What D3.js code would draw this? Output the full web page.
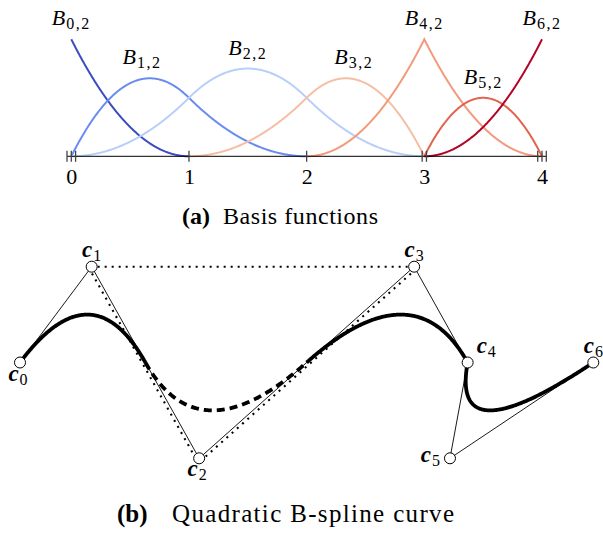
<!DOCTYPE html>
<html>
<head>
<meta charset="utf-8">
<script src="https://cdn.jsdelivr.net/npm/d3@7"></script>
<style>
  body { margin: 0; background: #fff; }
  text { font-family: "Liberation Serif", "DejaVu Serif", serif; fill: #000; }
</style>
</head>
<body>
<script>
// knot vector and degree of the quadratic B-spline
const knots = [0, 0, 0, 1, 2, 3, 3, 4, 4, 4];
const degree = 2;
const tickLabels = [0, 1, 2, 3, 4];
const basisColors = ["#3b4cc0", "#6a8cf0", "#b8cff9", "#f5bfa6", "#f39a7c", "#e0654f", "#b40426"];
const labelAt = [0, 0.6, 1.5, 2.4, 3, 3.5, 4];

// control points (b)
const ctrlX = [0, 1.5, 3.75, 8.25, 9.37, 9, 12];
const ctrlY = [0, 2, -2, 2, 0, -2, 0];
const ctrlLabelPos = ["below", "above", "below", "above", "right", "left", "above"];
const dashedSpan = [1, 2];
const dottedPoly = [1, 2, 3];

const width = 603, height = 536;
const svg = d3.select("body").append("svg")
  .attr("width", width).attr("height", height);

const tMax = d3.max(knots);

// Cox-de Boor
function N(i, p, t) {
  if (p === 0) {
    if (knots[i] <= t && t < knots[i + 1]) return 1;
    if (t === tMax && knots[i + 1] === tMax && knots[i] < knots[i + 1]) return 1;
    return 0;
  }
  let a = 0, b = 0;
  const d1 = knots[i + p] - knots[i];
  const d2 = knots[i + p + 1] - knots[i + 1];
  if (d1 > 0) a = (t - knots[i]) / d1 * N(i, p - 1, t);
  if (d2 > 0) b = (knots[i + p + 1] - t) / d2 * N(i + 1, p - 1, t);
  return a + b;
}

const nBasis = knots.length - degree - 1;

// ---------- (a) basis functions ----------
const x = d3.scaleLinear().domain([0, 4]).range([71.3, 542]);
const y = d3.scaleLinear().domain([0, 1]).range([156.3, 39.3]);

const line = d3.line().x(d => x(d[0])).y(d => y(d[1]));

d3.range(nBasis).forEach(i => {
  const lo = knots[i], hi = knots[i + degree + 1];
  const ts = d3.range(lo, hi, 0.005).concat([hi]);
  const pts = ts.map(t => [t, N(i, degree, t)]);
  svg.append("path")
    .attr("d", line(pts))
    .attr("fill", "none")
    .attr("stroke", basisColors[i])
    .attr("stroke-width", 2);

  const peak = d3.max(pts, d => d[1]);
  const lab = svg.append("text")
    .attr("x", x(labelAt[i]))
    .attr("y", y(peak) - 14)
    .attr("text-anchor", "middle")
    .style("font-size", "22px");
  lab.append("tspan").style("font-style", "italic").text("B");
  lab.append("tspan").attr("dy", 4).attr("dx", 1)
    .style("font-size", "16px").style("letter-spacing", "1.5px").text(i + ",2");
});

// axis line and knot ticks (multiplicity shown as repeated ticks)
const knotGroups = d3.rollups(knots, v => v.length, d => d);
const tickGap = 4.3;
const tickPos = [];
knotGroups.forEach(([k, m]) => {
  d3.range(m).forEach(j => tickPos.push(x(k) + (j - (m - 1) / 2) * tickGap));
});

svg.append("line")
  .attr("x1", d3.min(tickPos)).attr("x2", d3.max(tickPos))
  .attr("y1", y(0)).attr("y2", y(0))
  .attr("stroke", "#000").attr("stroke-width", 1);

svg.append("g").selectAll("line")
  .data(tickPos)
  .join("line")
    .attr("x1", d => d).attr("x2", d => d)
    .attr("y1", y(0) - 5.5).attr("y2", y(0) + 5.5)
    .attr("stroke", "#444").attr("stroke-width", 1.3);

const xAxis = svg.append("g")
  .attr("transform", `translate(0,${y(0)})`)
  .call(d3.axisBottom(x).tickValues(tickLabels).tickSize(0).tickPadding(12).tickFormat(d3.format("d")));
xAxis.select(".domain").remove();
xAxis.selectAll("text")
  .style("font-family", "'Liberation Serif', serif")
  .style("font-size", "22px")
  .attr("fill", "#000");

const capA = svg.append("g").style("font-size", "24px");
capA.append("text").attr("x", 182).attr("y", 224).style("font-weight", "bold").text("(a)");
capA.append("text").attr("x", 223).attr("y", 224)
  .attr("textLength", 155).attr("lengthAdjust", "spacing").text("Basis functions");

// ---------- (b) B-spline curve ----------
const px = d3.scaleLinear().domain([0, 12]).range([20, 593.3]);
const py = d3.scaleLinear().domain([-2, 2]).range([458.3, 266.7]);
const ctrl = ctrlX.map((cx, i) => [cx, ctrlY[i]]);

const pline = d3.line().x(d => px(d[0])).y(d => py(d[1]));

// control polygon
svg.append("path")
  .attr("d", pline(ctrl))
  .attr("fill", "none")
  .attr("stroke", "#000")
  .attr("stroke-width", 0.9);

// dotted control polygon of the dashed span, drawn beside the solid edges
const dp = dottedPoly.map(i => [px(ctrl[i][0]), py(ctrl[i][1])]);
const dottedEdges = [[dp[0], dp[1], 3], [dp[1], dp[2], 3], [dp[0], dp[2], 0]];
const dcx = d3.mean(dp, d => d[0]), dcy = d3.mean(dp, d => d[1]);
dottedEdges.forEach(([a, b, off]) => {
  const dx = b[0] - a[0], dy = b[1] - a[1];
  const len = Math.hypot(dx, dy);
  let nx = -dy / len, ny = dx / len;
  // push outward from triangle interior
  const mx = (a[0] + b[0]) / 2, my = (a[1] + b[1]) / 2;
  if ((mx - dcx) * nx + (my - dcy) * ny < 0) { nx = -nx; ny = -ny; }
  svg.append("line")
    .attr("x1", a[0] + nx * off + dx / len * 6).attr("y1", a[1] + ny * off + dy / len * 6)
    .attr("x2", b[0] + nx * off - dx / len * 6).attr("y2", b[1] + ny * off - dy / len * 6)
    .attr("stroke", "#000")
    .attr("stroke-width", 2.1)
    .attr("stroke-dasharray", "2 5");
});

function curvePoint(t) {
  let cx = 0, cy = 0;
  for (let i = 0; i < nBasis; i++) {
    const b = N(i, degree, t);
    cx += b * ctrl[i][0];
    cy += b * ctrl[i][1];
  }
  return [cx, cy];
}

const spans = [[0, dashedSpan[0], false], [dashedSpan[0], dashedSpan[1], true], [dashedSpan[1], tMax, false]];
spans.forEach(([a, b, dashed]) => {
  const ts = d3.range(a, b, 0.005).concat([b]);
  svg.append("path")
    .attr("d", pline(ts.map(curvePoint)))
    .attr("fill", "none")
    .attr("stroke", "#000")
    .attr("stroke-width", 3.8)
    .attr("stroke-dasharray", dashed ? "8 5" : null);
});

// control points
svg.append("g").selectAll("circle")
  .data(ctrl)
  .join("circle")
    .attr("cx", d => px(d[0]))
    .attr("cy", d => py(d[1]))
    .attr("r", 5.5)
    .attr("fill", "#fff")
    .attr("stroke", "#000")
    .attr("stroke-width", 1);

ctrl.forEach((d, i) => {
  const pos = ctrlLabelPos[i];
  let lx = px(d[0]), ly = py(d[1]), anchor = "middle";
  if (pos === "above") ly -= 10;
  if (pos === "below") { ly += 18; lx -= 2; }
  if (pos === "right") { lx += 9; ly -= 10; anchor = "start"; }
  if (pos === "left") { lx -= 10; ly += 4; anchor = "end"; }
  const t = svg.append("text")
    .attr("x", lx).attr("y", ly)
    .attr("text-anchor", anchor)
    .style("font-size", "23px");
  t.append("tspan").style("font-weight", "bold").style("font-style", "italic").text("c");
  t.append("tspan").attr("dy", 4).attr("dx", 1).style("font-size", "16px").text(i);
});

const capB = svg.append("g").style("font-size", "25px");
capB.append("text").attr("x", 117).attr("y", 522).style("font-weight", "bold").text("(b)");
capB.append("text").attr("x", 172).attr("y", 522)
  .attr("textLength", 282).attr("lengthAdjust", "spacing").text("Quadratic B-spline curve");
</script>
</body>
</html>
